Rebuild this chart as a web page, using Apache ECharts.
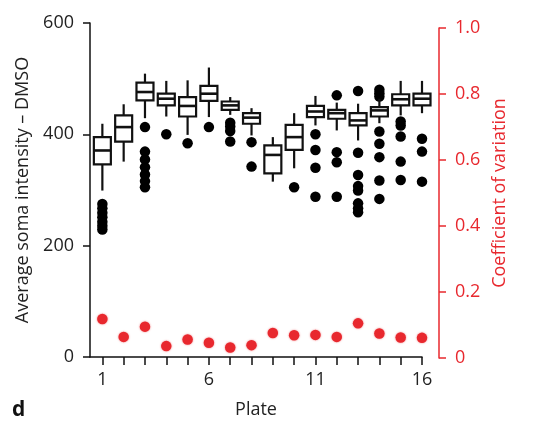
<!DOCTYPE html>
<html>
<head>
<meta charset="utf-8">
<script src="https://cdn.jsdelivr.net/npm/echarts@6/dist/echarts.min.js"></script>
<style>
  html, body { margin: 0; padding: 0; background: #fff; }
  #chart { width: 549px; height: 435px; }
</style>
</head>
<body>
<div id="chart"></div>
<script>
// plate numbers on the x axis
let plates = [1, 2, 3, 4, 5, 6, 7, 8, 9, 10, 11, 12, 13, 14, 15, 16];
let xLabels = [1, 6, 11, 16];

// box statistics
let whiskerLow  = [299, 351, 429, 432, 399, 431, 435, 398, 315, 339, 416, 407, 389, 420, 434, 438];
let q1          = [346, 387, 461, 452, 432, 460, 444, 419, 330, 372, 431, 428, 416, 432, 452, 452];
let median      = [371, 413, 476, 464, 451, 473, 452, 430, 363, 395, 441, 438, 425, 443, 463, 464];
let q3          = [395, 434, 493, 473, 467, 487, 459, 438, 380, 417, 451, 444, 438, 449, 472, 473];
let whiskerHigh = [419, 454, 509, 496, 497, 520, 467, 447, 395, 438, 469, 457, 455, 464, 496, 496];

// outliers per plate
let outliers = [
    [275, 267, 259, 251, 243, 236, 229],
    [],
    [413, 369, 355, 341, 328, 316, 305],
    [400],
    [384],
    [413],
    [421, 414, 406, 387],
    [386, 342],
    [],
    [305],
    [400, 372, 340, 288],
    [470, 368, 350, 288],
    [478, 367, 327, 307, 299, 276, 267, 260],
    [480, 474, 468, 405, 383, 359, 317, 284],
    [423, 416, 396, 351, 318],
    [392, 369, 315]
];

// coefficient of variation (right axis)
let cv = [0.118, 0.064, 0.095, 0.036, 0.056, 0.046, 0.032, 0.039, 0.076, 0.069, 0.070, 0.064, 0.105, 0.074, 0.062, 0.061];

let boxData = plates.map((p, i) => [p, whiskerLow[i], q1[i], median[i], q3[i], whiskerHigh[i]]);
let outlierData = [];
outliers.forEach((list, i) => {
    list.forEach(v => outlierData.push([plates[i], v]));
});
let cvData = plates.map((p, i) => [p, cv[i]]);

let font = '"Open Sans", "Noto Sans", sans-serif';
let red = '#e8282e';
let dark = '#222';

function renderBox(params, api) {
    let x = api.value(0);
    let pLow = api.coord([x, api.value(1)]);
    let pQ1 = api.coord([x, api.value(2)]);
    let pMed = api.coord([x, api.value(3)]);
    let pQ3 = api.coord([x, api.value(4)]);
    let pHigh = api.coord([x, api.value(5)]);
    let half = 8.5;
    let stroke = { stroke: '#111', lineWidth: 2.2 };
    return {
        type: 'group',
        children: [
            { type: 'line', shape: { x1: pHigh[0], y1: pHigh[1], x2: pQ3[0], y2: pQ3[1] }, style: stroke },
            { type: 'line', shape: { x1: pQ1[0], y1: pQ1[1], x2: pLow[0], y2: pLow[1] }, style: stroke },
            { type: 'rect', shape: { x: pQ3[0] - half, y: pQ3[1], width: half * 2, height: pQ1[1] - pQ3[1] },
              style: { fill: '#fff', stroke: '#111', lineWidth: 2.2 } },
            { type: 'line', shape: { x1: pMed[0] - half, y1: pMed[1], x2: pMed[0] + half, y2: pMed[1] },
              style: { stroke: '#111', lineWidth: 2.6 } }
        ]
    };
}

let chart = echarts.init(document.getElementById('chart'));
let option = {
    backgroundColor: '#fff',
    animation: false,
    textStyle: { fontFamily: font },
    grid: [
        { left: 90, right: 127, top: 23, bottom: 78 },
        { left: 90, right: 127, top: 28, bottom: 77 }
    ],
    xAxis: [
        {
            type: 'value', gridIndex: 0, min: 0.42, max: 16,
            name: 'Plate', nameLocation: 'middle', nameGap: 44,
            nameTextStyle: { fontSize: 18, color: dark, fontFamily: font },
            splitLine: { show: false },
            axisLine: { lineStyle: { color: '#111', width: 1.5 } },
            axisTick: { show: true, length: 8, customValues: plates, lineStyle: { color: '#111', width: 1.5 } },
            axisLabel: { customValues: xLabels, fontSize: 18, color: dark, margin: 14, fontFamily: font }
        },
        {
            type: 'value', gridIndex: 1, min: 0.42, max: 16, show: false
        }
    ],
    yAxis: [
        {
            type: 'value', gridIndex: 0, min: 0, max: 600, interval: 200,
            name: 'Average soma intensity – DMSO', nameLocation: 'middle', nameGap: 56, nameRotate: 90,
            nameTextStyle: { fontSize: 18, color: dark, fontFamily: font },
            splitLine: { show: false },
            axisLine: { show: true, lineStyle: { color: '#111', width: 1.5 } },
            axisTick: { show: true, length: 7, lineStyle: { color: '#111', width: 1.5 } },
            axisLabel: { fontSize: 18, color: dark, margin: 16, fontFamily: font }
        },
        {
            type: 'value', gridIndex: 1, position: 'right', offset: 17, min: 0, max: 1, interval: 0.2,
            name: 'Coefficient of variation', nameLocation: 'middle', nameGap: 52, nameRotate: 90,
            nameTextStyle: { fontSize: 18, color: red, fontFamily: font },
            splitLine: { show: false },
            axisLine: { show: true, lineStyle: { color: red, width: 1.5 } },
            axisTick: { show: true, length: 7, lineStyle: { color: red, width: 1.5 } },
            axisLabel: {
                fontSize: 18, color: red, margin: 16, fontFamily: font,
                formatter: v => (v === 0 ? '0' : v.toFixed(1))
            }
        }
    ],
    graphic: [
        { type: 'text', left: 12, top: 400, style: { text: 'd', font: 'bold 21px ' + font, fill: '#111' } }
    ],
    series: [
        {
            type: 'custom', xAxisIndex: 0, yAxisIndex: 0,
            renderItem: renderBox, data: boxData,
            encode: { x: 0, y: [1, 2, 3, 4, 5] }, z: 3
        },
        {
            type: 'scatter', xAxisIndex: 0, yAxisIndex: 0,
            data: outlierData, symbolSize: 10.5,
            itemStyle: { color: '#000', opacity: 1 }, z: 2
        },
        {
            type: 'scatter', xAxisIndex: 1, yAxisIndex: 1,
            data: cvData, symbolSize: 10.5,
            itemStyle: { color: red, opacity: 1, shadowBlur: 2, shadowColor: 'rgba(232,40,46,0.6)' }, z: 4
        }
    ]
};
chart.setOption(option);
</script>
</body>
</html>
